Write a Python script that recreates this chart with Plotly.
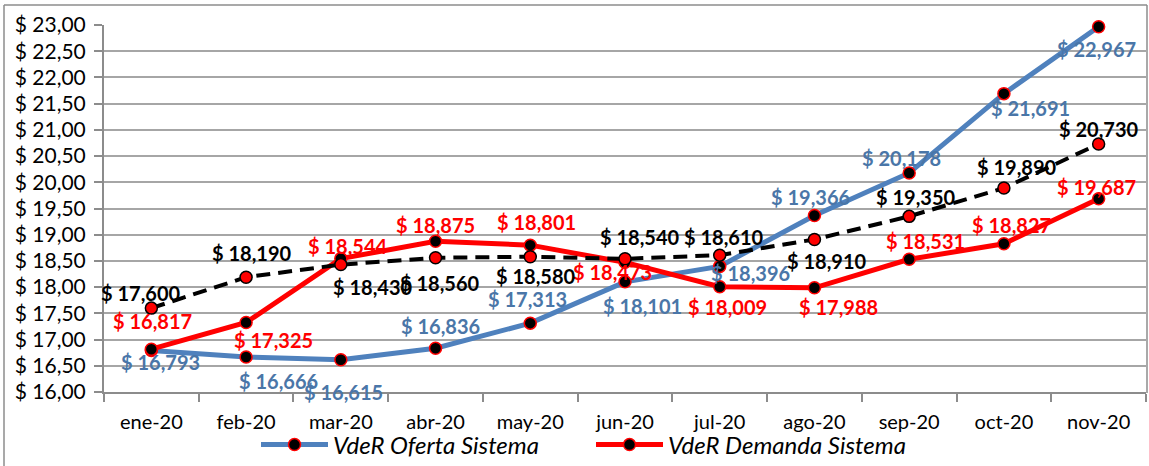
import plotly.graph_objects as go

months = ["ene-20", "feb-20", "mar-20", "abr-20", "may-20", "jun-20",
          "jul-20", "ago-20", "sep-20", "oct-20", "nov-20"]
oferta = [16.793, 16.666, 16.615, 16.836, 17.313, 18.101, 18.396, 19.366, 20.178, 21.691, 22.967]
demanda = [16.817, 17.325, 18.544, 18.875, 18.801, 18.473, 18.009, 17.988, 18.531, 18.827, 19.687]
referencia = [17.600, 18.190, 18.430, 18.560, 18.580, 18.540, 18.610, 18.910, 19.350, 19.890, 20.730]
y_ticks = [16.0, 16.5, 17.0, 17.5, 18.0, 18.5, 19.0, 19.5, 20.0, 20.5, 21.0, 21.5, 22.0, 22.5, 23.0]
y_tick_labels = ["$ 16,00", "$ 16,50", "$ 17,00", "$ 17,50", "$ 18,00", "$ 18,50", "$ 19,00",
                 "$ 19,50", "$ 20,00", "$ 20,50", "$ 21,00", "$ 21,50", "$ 22,00", "$ 22,50", "$ 23,00"]

# label offsets in pixels (dx right, dy down) - styling only
off_oferta = [(9, 12), (32, 24), (3, 32), (5, -22), (-3, -24), (17, 24), (31, 7), (-4, -19), (-8, -15), (27, 14), (-2, 22)]
off_demanda = [(1, -28), (27, 17), (7, -13), (0, -16), (6, -23), (-13, 10), (8, 20), (24, 19), (16, -18), (8, -19), (-2, -12)]
off_ref = [(-10, -15), (6, -24), (32, 22), (4, 25), (6, 19), (15, -22), (4, -18), (13, 22), (7, -19), (13, -21), (0, -15)]

BLUE = "#4F81BD"
BLUE_TXT = "#4A76A8"
RED = "#FF0000"
GRAY = "#8C8C8C"
FONT = "Lato"

W, H = 1149, 466
L, R, T, B = 104, 3, 25, 74
PW, PH = W - L - R, H - T - B


def fmt(v):
    return "$ " + f"{v:.3f}".replace(".", ",")


def px_x(p):
    return (p - L) / PW


def px_y(p):
    return (H - B - p) / PH


fig = go.Figure()
fig.add_trace(go.Scatter(
    x=months, y=oferta, name="VdeR Oferta Sistema", mode="lines+markers",
    line=dict(color=BLUE, width=5),
    marker=dict(color="black", size=12, line=dict(color=RED, width=1.5)),
    cliponaxis=False))
fig.add_trace(go.Scatter(
    x=months, y=demanda, name="VdeR Demanda Sistema", mode="lines+markers",
    line=dict(color=RED, width=5),
    marker=dict(color="black", size=12, line=dict(color=RED, width=1.5)),
    cliponaxis=False))
fig.add_trace(go.Scatter(
    x=months, y=referencia, name="Referencia", mode="lines+markers", showlegend=False,
    line=dict(color="black", width=4, dash="14px,8px"),
    marker=dict(color=RED, size=12, line=dict(color="black", width=1.5)),
    cliponaxis=False))

annotations = []
for series, offs, color in [(oferta, off_oferta, BLUE_TXT), (demanda, off_demanda, RED),
                            (referencia, off_ref, "black")]:
    for m, v, (dx, dy) in zip(months, series, offs):
        annotations.append(dict(
            x=m, y=v, xref="x", yref="y", text="<b>" + fmt(v) + "</b>", showarrow=False,
            xshift=dx, yshift=-dy, font=dict(family=FONT, size=20, color=color)))

frame = dict(color=GRAY, width=1.5)
fig.update_layout(
    width=W, height=H,
    margin=dict(l=L, r=R, t=T, b=B, autoexpand=False),
    paper_bgcolor="white", plot_bgcolor="white",
    font=dict(family=FONT, size=20, color="black"),
    annotations=annotations,
    showlegend=True,
    legend=dict(orientation="h", x=px_x(256), xanchor="left", y=px_y(445), yanchor="middle",
                font=dict(family=FONT, size=24, style="italic"), itemwidth=67,
                entrywidth=253, entrywidthmode="pixels",
                bgcolor="rgba(0,0,0,0)"),
    xaxis=dict(type="category", range=[-0.5, 10.5], showgrid=False, automargin=False,
               showline=True, linecolor=GRAY, linewidth=2,
               ticks="outside", tickson="boundaries", ticklen=8, tickcolor=GRAY, tickwidth=2,
               ticklabelstandoff=11, tickfont=dict(family=FONT, size=20)),
    yaxis=dict(range=[16, 23], tickvals=y_ticks, ticktext=y_tick_labels, automargin=False,
               showgrid=True, gridcolor="#A6A6A6", gridwidth=1.5,
               showline=True, linecolor=GRAY, linewidth=2,
               ticks="outside", ticklen=8, tickcolor=GRAY, tickwidth=2,
               ticklabelstandoff=4, tickfont=dict(family=FONT, size=21), zeroline=False),
    shapes=[
        dict(type="line", xref="paper", yref="paper", x0=px_x(4), x1=px_x(4), y0=px_y(5), y1=px_y(466), line=frame),
        dict(type="line", xref="paper", yref="paper", x0=px_x(4), x1=px_x(1147), y0=px_y(5), y1=px_y(5), line=frame),
        dict(type="line", xref="paper", yref="paper", x0=px_x(1147), x1=px_x(1147), y0=px_y(5), y1=px_y(393), line=frame),
    ],
)

fig.write_html("out.html", config={"displayModeBar": False},
               post_script="document.body.style.margin='0';document.body.style.overflow='hidden';")
